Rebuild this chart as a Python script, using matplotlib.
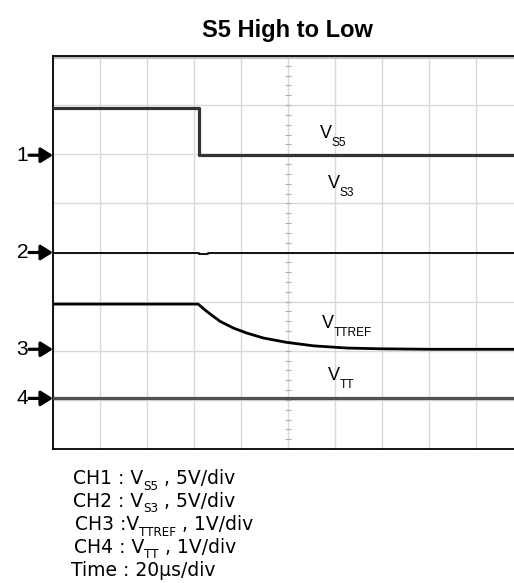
import numpy as np
import matplotlib
matplotlib.use("Agg")
import matplotlib.pyplot as plt

# scope traces, time in us (20us/div), level in screen divisions
ch1_t = [0, 62, 62, 196]
ch1_v = [6.94, 6.94, 5.98, 5.98]

ch2_t = [0, 62, 62, 66, 66, 196]
ch2_v = [4.0, 4.0, 3.97, 3.97, 4.0, 4.0]

ch3_t = [0, 61.7, 65.4, 71, 76.8, 82.4, 89.4, 99.4, 110.8, 125, 139, 160, 196]
ch3_v = [2.95, 2.95, 2.80, 2.60, 2.46, 2.36, 2.26, 2.17, 2.10, 2.055, 2.04, 2.03, 2.03]

ch4_t = [0, 196]
ch4_v = [1.03, 1.03]

marker_names = ["1", "2", "3", "4"]
marker_levels = [5.98, 4.0, 2.03, 1.03]

# trace labels: main letter, subscript, position of the V (figure pixels, baseline)
label_main = ["V", "V", "V", "V"]
label_sub = ["S5", "S3", "TTREF", "TT"]
label_x = [320, 328, 322, 328]
label_y = [138, 188, 328, 380]

# note lines below the screen: (before, sub, after)
note_pre = ["CH1 : V", "CH2 : V", "CH3 :V", "CH4 : V", "Time : 20µs/div"]
note_sub = ["S5", "S3", "TTREF", "TT", ""]
note_post = [" , 5V/div", " , 5V/div", " , 1V/div", " , 1V/div", ""]
note_x = [73, 73, 75, 74, 71]
note_y = [484, 507, 530, 553, 576]

plt.rcParams['font.family'] = ['Liberation Sans', 'DejaVu Sans']

W, H = 514, 583
fig = plt.figure(figsize=(W/100, H/100), dpi=100)
renderer = fig.canvas.get_renderer()


def put_text(x, y, size, pieces, family=None):
    # pieces: list of (text, size factor, drop in px); drawn one after another
    for txt, f, drop in pieces:
        if not txt:
            continue
        t = fig.text(x/W, 1 - (y + drop)/H, txt, fontsize=size*f,
                     ha='left', va='baseline', family=family)
        x += t.get_window_extent(renderer).width


ax = fig.add_axes([53/W, 1 - 449/H, (W - 53)/W, (449 - 56)/H])
ax.set_xlim(0, 196)
ax.set_ylim(0, 8)
ax.set_xticks(np.arange(0, 200, 20))
ax.set_yticks(np.arange(0, 9, 1))
ax.tick_params(length=0, labelbottom=False, labelleft=False)
ax.grid(True, color='#d9d9d9', lw=1.0)
ax.set_axisbelow(True)
for s in ['top', 'left', 'bottom']:
    ax.spines[s].set_linewidth(1.3)
ax.spines['right'].set_visible(False)
ax.axhline(7.955, color='#c0c0c0', lw=1.5, zorder=1)

# small ticks on the centre line
ticks = np.arange(0.2, 8, 0.2)
ax.plot(np.full(len(ticks), 100), ticks, ls='none', marker='_', ms=5,
        mew=0.8, color='#b0b0b0', zorder=1)

ax.plot(ch1_t, ch1_v, color='#333333', lw=2.3, zorder=3)
ax.plot(ch2_t, ch2_v, color='black', lw=1.3, zorder=3)
ax.plot(ch3_t, ch3_v, color='black', lw=2.0, zorder=3)
ax.plot(ch4_t, ch4_v, color='#505050', lw=2.3, zorder=3)

for name, lvl in zip(marker_names, marker_levels):
    ax.annotate('', xy=(0, lvl), xytext=(-24, 0), textcoords='offset pixels',
                arrowprops=dict(arrowstyle='-|>,head_length=0.4,head_width=0.25',
                                lw=2.3, color='black', mutation_scale=18,
                                shrinkA=0, shrinkB=0),
                annotation_clip=False)
    ax.annotate(name, xy=(0, lvl), xytext=(-25, 0), textcoords='offset pixels',
                ha='right', va='center', fontsize=15, annotation_clip=False)

for m, sub, x, y in zip(label_main, label_sub, label_x, label_y):
    put_text(x, y, 13, [(m, 1.0, 0), (sub, 0.66, 8.5)])

fig.text(287/W, 1 - 36.5/H, "S5 High to Low", ha='center', va='baseline',
         fontsize=17, fontweight='bold')

# the legend lines are drawn wider than the rest, DejaVu is the closer match
for pre, sub, post, x, y in zip(note_pre, note_sub, note_post, note_x, note_y):
    put_text(x, y, 13.5, [(pre, 1.0, 0), (sub, 0.64, 5.5), (post, 1.0, 0)],
             family='DejaVu Sans')

fig.savefig("out.png", dpi=100)
